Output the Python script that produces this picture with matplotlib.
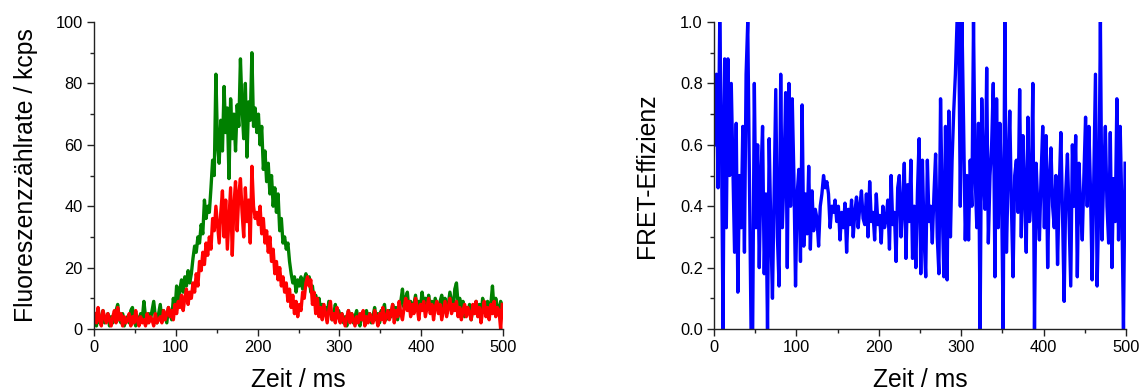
import numpy as np
import matplotlib
matplotlib.use("Agg")
import matplotlib.pyplot as plt
from matplotlib.ticker import MultipleLocator

plt.rcParams['font.family'] = ['Liberation Sans', 'DejaVu Sans']

# time axis: 2 ms bins, bin centres
t = np.arange(1, 500, 2)

# donor (green) count rate in kcps
green = [3, 1, 5, 2, 4, 6, 2, 3, 5, 1,
         4, 2, 3, 6, 8, 3, 2, 5, 1, 3,
         4, 2, 6, 7, 3, 1, 4, 2, 5, 3,
         9, 4, 2, 5, 3, 6, 9, 4, 2, 5,
         8, 3, 6, 4, 2, 7, 5, 3, 10, 6,
         14, 8, 13, 16, 12, 17, 14, 19, 15, 18,
         23, 27, 25, 30, 28, 34, 31, 42, 36, 40,
         38, 46, 55, 50, 83, 60, 54, 68, 58, 79,
         64, 72, 49, 75, 62, 70, 58, 73, 66, 88,
         72, 62, 80, 56, 74, 68, 90, 66, 72, 64,
         70, 60, 66, 52, 58, 48, 54, 44, 50, 40,
         46, 38, 44, 32, 36, 28, 30, 26, 28, 22,
         18, 15, 17, 12, 16, 14, 17, 13, 16, 18,
         15, 17, 12, 14, 9, 11, 7, 10, 6, 8,
         5, 7, 4, 9, 6, 3, 5, 8, 4, 6,
         3, 5, 2, 4, 1, 6, 3, 5, 2, 4,
         6, 3, 1, 5, 4, 2, 6, 3, 5, 2,
         4, 7, 3, 5, 2, 6, 4, 8, 3, 5,
         6, 4, 8, 5, 7, 3, 6, 9, 13, 7,
         10, 12, 6, 9, 5, 8, 11, 6, 9, 7,
         12, 8, 10, 6, 11, 7, 9, 5, 10, 8,
         6, 9, 11, 7, 10, 5, 8, 12, 9, 6,
         13, 15, 8, 10, 6, 9, 4, 7, 5, 8,
         3, 7, 6, 9, 5, 8, 4, 10, 7, 6,
         9, 5, 8, 14, 6, 10, 7, 5, 9, 7]

# acceptor (red) count rate in kcps
red = [5, 2, 7, 3, 1, 6, 4, 2, 5, 3,
       1, 4, 6, 2, 7, 3, 5, 1, 4, 2,
       3, 5, 1, 4, 2, 6, 3, 1, 4, 2,
       3, 1, 5, 2, 4, 3, 1, 5, 2, 3,
       4, 2, 6, 3, 5, 7, 4, 6, 3, 8,
       5, 9, 7, 11, 6, 10, 13, 8, 12, 10,
       15, 12, 18, 14, 22, 19, 25, 21, 28, 24,
       30, 26, 36, 32, 40, 34, 28, 38, 45, 30,
       42, 26, 36, 46, 24, 40, 48, 32, 44, 49,
       38, 30, 46, 35, 42, 28, 53, 40, 36, 38,
       34, 40, 31, 36, 28, 32, 25, 30, 22, 26,
       18, 22, 16, 20, 14, 17, 12, 15, 9, 13,
       7, 11, 5, 9, 4, 8, 6, 12, 10, 15,
       17, 14, 16, 8, 12, 5, 10, 4, 7, 3,
       8, 5, 2, 6, 9, 3, 5, 2, 7, 4,
       2, 5, 3, 1, 4, 6, 2, 5, 3, 1,
       4, 2, 5, 3, 6, 1, 4, 2, 5, 3,
       2, 6, 4, 1, 5, 3, 7, 2, 4, 6,
       3, 5, 8, 2, 6, 4, 9, 5, 3, 7,
       10, 6, 9, 4, 8, 5, 10, 7, 3, 8,
       6, 9, 4, 7, 10, 5, 8, 3, 7, 9,
       5, 8, 3, 6, 9, 4, 7, 10, 5, 8,
       6, 9, 4, 7, 3, 6, 8, 4, 7, 5,
       3, 8, 5, 9, 4, 7, 2, 6, 9, 4,
       7, 3, 8, 5, 9, 4, 7, 6, 0, 8]

# FRET efficiency per bin
fret = [0.60, 0.83, 0.46, 1.00, 0.66, 0.00, 0.88, 0.33, 0.88, 0.50,
        0.80, 0.52, 0.25, 0.67, 0.12, 0.50, 0.33, 0.66, 0.25, 0.83,
        1.00, 0.50, 0.00, 0.00, 0.80, 0.33, 0.60, 0.20, 0.50, 0.66,
        0.18, 0.44, 0.00, 0.62, 0.33, 0.10, 0.45, 0.78, 0.30, 0.14,
        0.83, 0.33, 0.50, 0.77, 0.20, 0.80, 0.40, 0.75, 0.50, 0.14,
        0.44, 0.52, 0.22, 0.73, 0.27, 0.44, 0.31, 0.53, 0.26, 0.45,
        0.32, 0.39, 0.36, 0.27, 0.40, 0.44, 0.50, 0.46, 0.48, 0.44,
        0.33, 0.40, 0.38, 0.42, 0.35, 0.40, 0.29, 0.38, 0.33, 0.41,
        0.25, 0.39, 0.34, 0.42, 0.30, 0.38, 0.43, 0.33, 0.40, 0.45,
        0.36, 0.34, 0.44, 0.30, 0.48, 0.35, 0.38, 0.29, 0.44, 0.34,
        0.37, 0.28, 0.40, 0.33, 0.36, 0.42, 0.26, 0.50, 0.34, 0.38,
        0.22, 0.46, 0.50, 0.30, 0.40, 0.54, 0.23, 0.47, 0.35, 0.55,
        0.23, 0.40, 0.20, 0.45, 0.62, 0.18, 0.55, 0.30, 0.17, 0.55,
        0.35, 0.40, 0.28, 0.44, 0.57, 0.30, 0.18, 0.75, 0.40, 0.17,
        0.66, 0.16, 0.71, 0.30, 0.55, 0.71, 0.83, 1.00, 1.00, 0.40,
        1.00, 0.66, 0.29, 0.50, 0.29, 0.55, 0.40, 1.00, 0.50, 0.33,
        0.67, 0.00, 0.75, 0.50, 0.39, 0.85, 0.28, 0.50, 0.60, 0.80,
        0.17, 0.75, 0.33, 0.67, 0.45, 0.00, 1.00, 0.25, 0.50, 0.71,
        0.40, 0.17, 0.50, 0.55, 0.38, 0.78, 0.30, 0.63, 0.45, 0.25,
        0.69, 0.35, 0.43, 0.80, 0.00, 0.54, 0.40, 0.29, 0.50, 0.66,
        0.33, 0.63, 0.20, 0.49, 0.59, 0.40, 0.33, 0.50, 0.21, 0.45,
        0.64, 0.38, 0.09, 0.45, 0.57, 0.35, 0.14, 0.60, 0.40, 0.63,
        0.17, 0.54, 0.40, 0.29, 0.50, 0.69, 0.40, 0.66, 0.45, 0.16,
        0.50, 0.83, 0.14, 0.40, 1.00, 0.29, 0.50, 0.66, 0.40, 0.28,
        0.64, 0.20, 0.49, 0.35, 0.75, 0.29, 0.66, 0.40, 0.00, 0.54]

fig = plt.figure(figsize=(11.46, 3.91), dpi=100)
ax1 = fig.add_axes([0.082, 0.1586, 0.357, 0.785])
ax2 = fig.add_axes([0.623, 0.1586, 0.3595, 0.785])

ax1.plot(t, green, color='#008000', lw=2.4)
ax1.plot(t, red, color='#ff0000', lw=2.4)
ax1.set_ylim(0, 100)
ax1.yaxis.set_major_locator(MultipleLocator(20))
ax1.yaxis.set_minor_locator(MultipleLocator(10))
ax1.set_ylabel('Fluoreszenzzählrate / kcps', fontsize=17.8, labelpad=13)

ax2.plot(t, fret, color='#0000ff', lw=2.4)
ax2.set_ylim(0, 1.0)
ax2.yaxis.set_major_locator(MultipleLocator(0.2))
ax2.yaxis.set_minor_locator(MultipleLocator(0.1))
ax2.yaxis.set_major_formatter(plt.FormatStrFormatter('%.1f'))
ax2.set_ylabel('FRET-Effizienz', fontsize=17.8, labelpad=15)

for ax in (ax1, ax2):
    ax.set_xlim(0, 500)
    ax.xaxis.set_major_locator(MultipleLocator(100))
    ax.xaxis.set_minor_locator(MultipleLocator(50))
    ax.set_xlabel('Zeit / ms', fontsize=17.8, labelpad=9)
    ax.spines['top'].set_visible(False)
    ax.spines['right'].set_visible(False)
    for s in ('left', 'bottom'):
        ax.spines[s].set_linewidth(1.0)
        ax.spines[s].set_color('#222222')
    ax.tick_params(which='major', direction='out', length=5, width=1,
                   labelsize=11.8, pad=3, color='#222222')
    ax.tick_params(which='minor', direction='out', length=3, width=1,
                   color='#222222')

fig.savefig('out.png', dpi=100)
